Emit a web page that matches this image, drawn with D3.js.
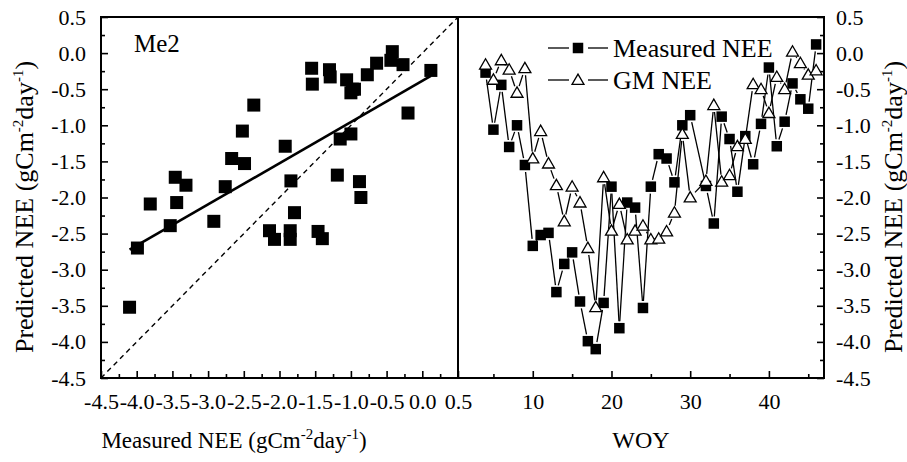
<!DOCTYPE html>
<html>
<head>
<meta charset="utf-8">
<script src="https://cdn.jsdelivr.net/npm/d3@7"></script>
<style>
    body { margin: 0; background: #fff; }
    svg { display: block; font-family: "Liberation Serif", "DejaVu Serif", serif; }
</style>
</head>
<body>
<svg id="chart" width="907" height="462"></svg>
<script>
// weekly NEE (gC m-2 day-1), week 31 missing
const weeks = [4, 5, 6, 7, 8, 9, 10, 11, 12, 13, 14, 15, 16, 17, 18, 19, 20, 21, 22, 23, 24, 25, 26, 27, 28, 29, 30,
    32, 33, 34, 35, 36, 37, 38, 39, 40, 41, 42, 43, 44, 45, 46]
const measured = [-0.27, -1.06, -0.44, -1.30, -1.00, -1.55, -2.67, -2.52, -2.49, -3.31, -2.92, -2.76, -3.44, -3.99,
    -4.10, -3.46, -1.85, -3.81, -2.07, -2.14, -3.53, -1.85, -1.40, -1.46, -1.79, -1.00, -0.86,
    -1.84, -2.36, -0.88, -1.19, -1.92, -1.15, -1.54, -0.98, -0.20, -1.29, -0.95, -0.42, -0.64, -0.77, 0.12]
const gmNEE = [-0.16, -0.37, -0.10, -0.23, -0.55, -0.21, -1.46, -1.08, -1.53, -1.83, -2.33, -1.85, -2.07, -2.70,
    -3.52, -1.72, -2.46, -2.09, -2.58, -2.46, -2.39, -2.58, -2.57, -2.47, -2.21, -1.12, -2.00,
    -1.77, -0.72, -1.78, -1.69, -1.29, -1.19, -0.43, -0.50, -0.83, -0.33, -0.50, 0.02, -0.14, -0.30, -0.24]

// fitted line
const fitSlope = 0.57
const fitIntercept = -0.385

const nee_ticks = [0.5, 0.0, -0.5, -1.0, -1.5, -2.0, -2.5, -3.0, -3.5, -4.0, -4.5]
const nee_minor = [0.25, -0.25, -0.75, -1.25, -1.75, -2.25, -2.75, -3.25, -3.75, -4.25]
const woy_ticks = [10, 20, 30, 40]
const woy_minor = [5, 15, 25, 35, 45]

const svg = d3.select('#chart')
const fmt = (d) => d.toFixed(1)
const tickFont = 22

// plot box
const box = { top: 17, bottom: 378, left: 101, mid: 458, right: 824 }
const x1 = d3.scaleLinear().domain([-4.5, 0.5]).range([box.left, box.mid])
const x2 = d3.scaleLinear().domain([0.5, 47]).range([box.mid, box.right])
const y = d3.scaleLinear().domain([-4.5, 0.5]).range([box.bottom, box.top])

const pairs = weeks.map((w, i) => ({ w: w, m: measured[i], g: gmNEE[i] }))

function styleAxis(g)
{
    g.attr('font-family', null)
    g.select('.domain').remove()
    g.selectAll('line').attr('stroke', '#000').attr('stroke-width', 1.6)
    g.selectAll('text').attr('fill', '#000').attr('font-size', tickFont)
        .attr('font-family', '"Liberation Serif", serif')
}

// axes: major + minor ticks, all pointing inward
svg.append('g').attr('transform', `translate(${box.left},0)`)
    .call(d3.axisLeft(y).tickValues(nee_ticks).tickFormat(fmt).tickSize(-7).tickPadding(15))
    .call(styleAxis)
svg.append('g').attr('transform', `translate(${box.left},0)`)
    .call(d3.axisLeft(y).tickValues(nee_minor).tickFormat('').tickSize(-4))
    .call(styleAxis)

svg.append('g').attr('transform', `translate(${box.right},0)`)
    .call(d3.axisRight(y).tickValues(nee_ticks).tickFormat(fmt).tickSize(-7).tickPadding(12))
    .call(styleAxis)
svg.append('g').attr('transform', `translate(${box.right},0)`)
    .call(d3.axisRight(y).tickValues(nee_minor).tickFormat('').tickSize(-4))
    .call(styleAxis)

svg.append('g').attr('transform', `translate(0,${box.bottom})`)
    .call(d3.axisBottom(x1).tickValues(nee_ticks).tickFormat(fmt).tickSize(-7).tickPadding(15))
    .call(styleAxis)
svg.append('g').attr('transform', `translate(0,${box.bottom})`)
    .call(d3.axisBottom(x1).tickValues(nee_minor).tickFormat('').tickSize(-4))
    .call(styleAxis)

svg.append('g').attr('transform', `translate(0,${box.bottom})`)
    .call(d3.axisBottom(x2).tickValues(woy_ticks).tickFormat(d3.format('d')).tickSize(-7).tickPadding(15))
    .call(styleAxis)
svg.append('g').attr('transform', `translate(0,${box.bottom})`)
    .call(d3.axisBottom(x2).tickValues(woy_minor).tickFormat('').tickSize(-4))
    .call(styleAxis)

// frame
svg.append('rect')
    .attr('x', box.left).attr('y', box.top)
    .attr('width', box.right - box.left).attr('height', box.bottom - box.top)
    .attr('fill', 'none').attr('stroke', '#000').attr('stroke-width', 2)
svg.append('line')
    .attr('x1', box.mid).attr('x2', box.mid).attr('y1', box.top).attr('y2', box.bottom)
    .attr('stroke', '#000').attr('stroke-width', 2)

// ---- left panel: measured vs predicted
const leftPanel = svg.append('g')

leftPanel.append('line')
    .attr('x1', x1(-4.5)).attr('y1', y(-4.5))
    .attr('x2', x1(0.5)).attr('y2', y(0.5))
    .attr('stroke', '#000').attr('stroke-width', 1.4)
    .attr('stroke-dasharray', '5,4')

const fitX = d3.extent(measured)
leftPanel.append('line')
    .attr('x1', x1(fitX[0])).attr('y1', y(fitSlope * fitX[0] + fitIntercept))
    .attr('x2', x1(fitX[1])).attr('y2', y(fitSlope * fitX[1] + fitIntercept))
    .attr('stroke', '#000').attr('stroke-width', 2.6)

const sq = 13
leftPanel.selectAll('rect.pt')
    .data(pairs)
    .join('rect')
    .attr('class', 'pt')
    .attr('x', (d) => x1(d.m) - sq / 2)
    .attr('y', (d) => y(d.g) - sq / 2)
    .attr('width', sq).attr('height', sq)
    .attr('fill', '#000')

leftPanel.append('text')
    .attr('x', 134).attr('y', 52)
    .attr('font-size', 25)
    .text('Me2')

// ---- right panel: time series
const rightPanel = svg.append('g')

// connecting segments stop short of the markers
function segments(key)
{
    const out = []
    for (let i = 1; i < pairs.length; i++)
    {
        const ax = x2(pairs[i - 1].w), ay = y(pairs[i - 1][key])
        const bx = x2(pairs[i].w), by = y(pairs[i][key])
        const len = Math.hypot(bx - ax, by - ay)
        const gap = Math.min(7, len / 2 - 0.5)
        const ux = (bx - ax) / len, uy = (by - ay) / len
        out.push([ax + ux * gap, ay + uy * gap, bx - ux * gap, by - uy * gap])
    }
    return out
}

const drawSegs = (key) => rightPanel.append('g')
    .selectAll('line')
    .data(segments(key))
    .join('line')
    .attr('x1', (d) => d[0]).attr('y1', (d) => d[1])
    .attr('x2', (d) => d[2]).attr('y2', (d) => d[3])
    .attr('stroke', '#000').attr('stroke-width', 1.3)

drawSegs('m')
drawSegs('g')

const sq2 = 10.5
const tri = d3.symbol().type(d3.symbolTriangle).size(62)

rightPanel.append('g')
    .selectAll('rect')
    .data(pairs)
    .join('rect')
    .attr('x', (d) => x2(d.w) - sq2 / 2)
    .attr('y', (d) => y(d.m) - sq2 / 2)
    .attr('width', sq2).attr('height', sq2)
    .attr('fill', '#000')

rightPanel.append('g')
    .selectAll('path')
    .data(pairs)
    .join('path')
    .attr('d', tri)
    .attr('transform', (d) => `translate(${x2(d.w)},${y(d.g) + 1})`)
    .attr('fill', '#fff').attr('stroke', '#000').attr('stroke-width', 1.3)

// legend
const legend = svg.append('g')
const legendRows = [
    { label: 'Measured NEE', y: 48, mark: 'square' },
    { label: 'GM NEE', y: 80, mark: 'triangle' }
]
legendRows.forEach((r) =>
{
    legend.append('line').attr('x1', 548).attr('x2', 569).attr('y1', r.y).attr('y2', r.y)
        .attr('stroke', '#000').attr('stroke-width', 1.3)
    legend.append('line').attr('x1', 588).attr('x2', 608).attr('y1', r.y).attr('y2', r.y)
        .attr('stroke', '#000').attr('stroke-width', 1.3)
    if (r.mark === 'square')
    {
        legend.append('rect').attr('x', 578 - sq2 / 2).attr('y', r.y - sq2 / 2)
            .attr('width', sq2).attr('height', sq2).attr('fill', '#000')
    }
    else
    {
        legend.append('path').attr('d', tri).attr('transform', `translate(578,${r.y + 1})`)
            .attr('fill', '#fff').attr('stroke', '#000').attr('stroke-width', 1.3)
    }
    legend.append('text').attr('x', 613).attr('y', r.y + 9)
        .attr('font-size', 26).text(r.label)
})

// axis titles
function neeTitle(g, prefix, sup)
{
    g.append('tspan').text(prefix + 'NEE (gCm')
    g.append('tspan').attr('dy', -sup).attr('font-size', 15).text('-2')
    g.append('tspan').attr('dy', sup).text('day')
    g.append('tspan').attr('dy', -sup).attr('font-size', 15).text('-1')
    g.append('tspan').attr('dy', sup).text(')')
}

const midY = 207

svg.append('text')
    .attr('text-anchor', 'middle').attr('font-size', 26)
    .attr('transform', `translate(33,${midY}) rotate(-90)`)
    .call((t) => neeTitle(t, 'Predicted ', 10))

svg.append('text')
    .attr('text-anchor', 'middle').attr('font-size', 26)
    .attr('transform', `translate(902,${midY}) rotate(-90)`)
    .call((t) => neeTitle(t, 'Predicted ', 10))

svg.append('text')
    .attr('text-anchor', 'middle').attr('font-size', 23)
    .attr('x', 234).attr('y', 448)
    .call((t) => neeTitle(t, 'Measured ', 9))

svg.append('text')
    .attr('text-anchor', 'middle').attr('font-size', 24)
    .attr('x', (box.mid + box.right) / 2).attr('y', 448)
    .text('WOY')
</script>
</body>
</html>
